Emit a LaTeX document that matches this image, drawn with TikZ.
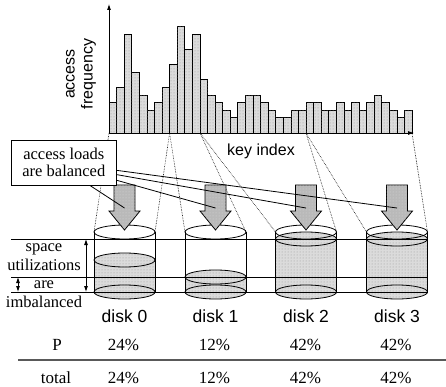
\documentclass[tikz,border=0pt]{standalone}
\usepackage{fontspec}
\setmainfont{Liberation Serif}
\setsansfont{Liberation Sans}
\usetikzlibrary{arrows.meta,patterns}
\begin{document}
\begin{tikzpicture}[x=1pt,y=-1pt,line width=0.8pt,
  dotfill/.style={fill=gray!28,postaction={pattern=dots,pattern color=gray!80}},
  darkfill/.style={fill=gray!55,postaction={pattern=dots,pattern color=gray!30}},
  bar/.style={draw=black,dotfill},
  dotline/.style={densely dotted,line width=0.6pt},
  axis/.style={-{Latex[length=6pt,width=4pt]}},
  dblarrow/.style={{Latex[length=6pt,width=4pt]}-{Latex[length=6pt,width=4pt]}},
  sflabel/.style={font=\sffamily\fontsize{16}{18}\selectfont},
  disklabel/.style={font=\sffamily\fontsize{17.5}{20}\selectfont},
  rmlabel/.style={font=\fontsize{16.5}{18.6}\selectfont,align=center},
  tablabel/.style={font=\fontsize{17}{20}\selectfont}]
\useasboundingbox (0,0) rectangle (446,387);

% histogram bars
\foreach \h [count=\i from 0] in {4,6,13,8,5,3,4,6,9,14,11,13,7,5,4,3,2,4,5,5,4,3,2,2,3,3,4,4,3,3,4,3,4,3,4,5,4,3,2,3} {
  \draw[bar] ({109+\i*7.58},133) rectangle ({109+(\i+1)*7.58},{133-\h*7.6});
}
% axes
\coordinate (o) at (109,133);
\coordinate (ytop) at (109,4);
\coordinate (xend) at (414,133);
\draw[axis] (o) -- (ytop);
\draw[axis] (o) -- (xend);
\node[sflabel,rotate=90,align=center] (af) at (81,74) {access\\frequency};
\node[sflabel] (ki) at (261,151) {key index};

% key range boundaries
\coordinate (b0) at (109,133);
\coordinate (b1) at (169.6,133);
\coordinate (b2) at (200,133);
\coordinate (b3) at (306,133);
\coordinate (b4) at (412,133);

% disks
\foreach \cx/\f/\n in {124.5/260/0,215.5/277/1,306/239/2,397/239/3} {
  \coordinate (dL\n) at ({\cx-30.5},232);
  \coordinate (dR\n) at ({\cx+30.5},232);
  \coordinate (a\n) at (\cx,208);
  \path[dotfill] ({\cx-30.5},\f) -- ({\cx-30.5},292)
     arc[start angle=180,end angle=360,x radius=30.5pt,y radius=7pt]
     -- ({\cx+30.5},\f)
     arc[start angle=0,end angle=180,x radius=30.5pt,y radius=7pt] -- cycle;
  \draw (\cx,\f) ellipse [x radius=30.5pt,y radius=7pt];
  \draw (\cx,292) ellipse [x radius=30.5pt,y radius=7pt];
  \draw (\cx,232) ellipse [x radius=30.5pt,y radius=7pt];
  \draw (dL\n) -- ({\cx-30.5},292);
  \draw (dR\n) -- ({\cx+30.5},292);
}
% dotted mapping lines
\draw[dotline] (b0) -- (dL0);
\draw[dotline] (b1) -- (dR0);
\draw[dotline] (b1) -- (dL1);
\draw[dotline] (b2) -- (dR1);
\draw[dotline] (b2) -- (dL2);
\draw[dotline] (b3) -- (dR2);
\draw[dotline] (b3) -- (dL3);
\draw[dotline] (b4) -- (dR3);

% level lines
\coordinate (l1) at (11,239);  \coordinate (r1) at (428,239);
\coordinate (l2) at (11,277);  \coordinate (r2) at (428,277);
\coordinate (l3) at (11,292);  \coordinate (r3) at (428,292);
\draw (l1) -- (r1);
\draw (l2) -- (r2);
\draw (l3) -- (r3);

% block arrows
\foreach \cx in {124.5,215.5,306,397} {
  \draw[darkfill] ({\cx-10.5},185) -- ({\cx+10.5},185) -- ({\cx+10.5},211)
    -- ({\cx+15.5},211) -- (\cx,230) -- ({\cx-15.5},211) -- ({\cx-10.5},211) -- cycle;
}

% balanced box
\node[draw,minimum width=105.7pt,minimum height=45pt,align=center,
      font=\fontsize{16.5}{17.5}\selectfont,fill=white] (box) at (63.85,162.5) {access loads\\are balanced};
\draw ([yshift=15pt]box.south east) -- (a3);
\draw ([yshift=10.7pt]box.south east) -- (a2);
\draw ([yshift=5pt]box.south east) -- (a1);
\draw ([xshift=26pt]box.south) -- (a0);

% imbalance arrows and label
\coordinate (u1) at (86,239); \coordinate (u2) at (86,292);
\coordinate (v1) at (18,277); \coordinate (v2) at (18,292);
\draw[dblarrow] (u1) -- (u2);
\draw[dblarrow] (v1) -- (v2);
\node[rmlabel] (su) at (44,275.5) {space\\utilizations\\are\\imbalanced};

% table
\foreach \cx/\n in {124.5/0,215.5/1,306/2,397/3} {
  \node[disklabel] (dk\n) at (\cx,316) {disk \n};
}
\node[tablabel] (pl) at (57,345) {P};
\node[tablabel] (tl) at (56,377.5) {total};
\foreach \cx/\v/\n in {123.5/24/0,214.5/12/1,305.5/42/2,396/42/3} {
  \node[tablabel] (p\n) at (\cx,345) {\v\%};
  \node[tablabel] (t\n) at (\cx,377.5) {\v\%};
}
\coordinate (rl) at (18,360); \coordinate (rr) at (446,360);
\draw[gray!70!black,line width=1.5pt] (rl) -- (rr);
\end{tikzpicture}
\end{document}
